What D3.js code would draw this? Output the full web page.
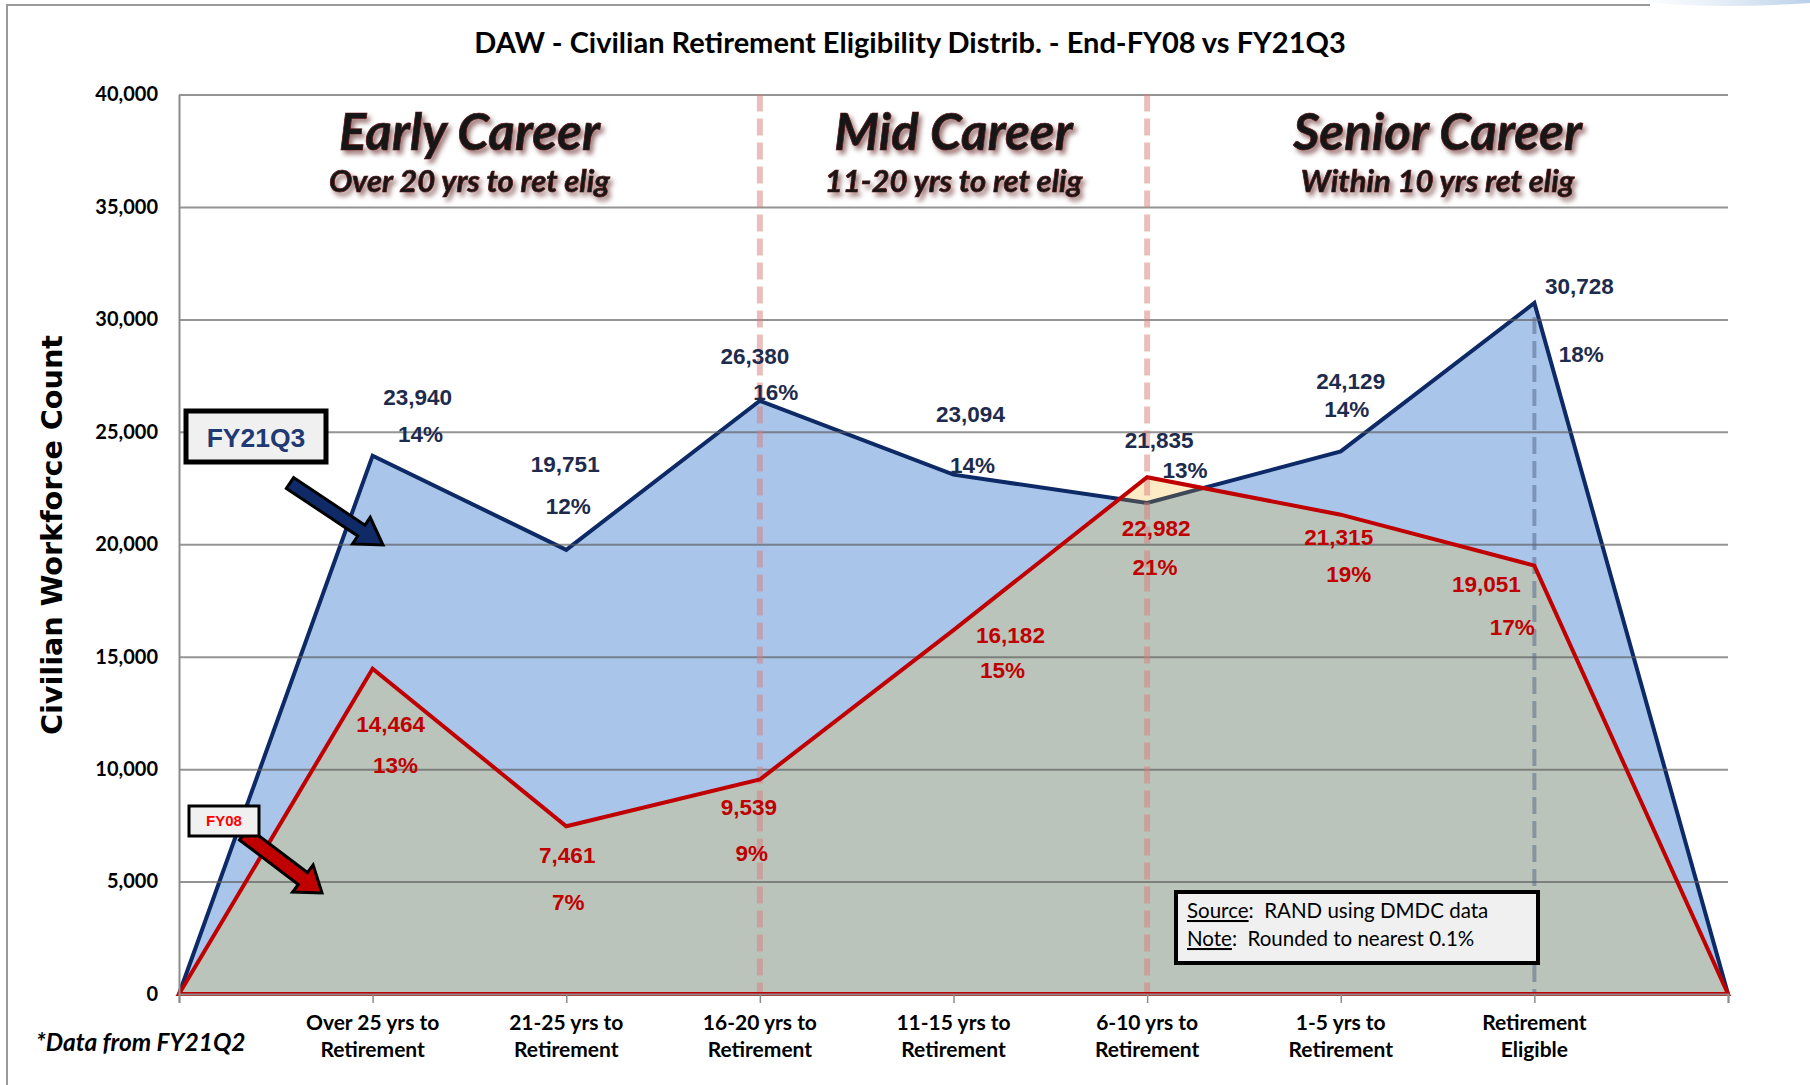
<!DOCTYPE html>
<html>
<head>
<meta charset="utf-8">
<script src="https://cdn.jsdelivr.net/npm/d3@7"></script>
<style>
  body { margin: 0; background: #fff; }
  svg { display: block; }
</style>
</head>
<body>
<div id="chart"></div>
<script>
// data
let categories = ["", "Over 25 yrs to\nRetirement", "21-25 yrs to\nRetirement", "16-20 yrs to\nRetirement",
                  "11-15 yrs to\nRetirement", "6-10 yrs to\nRetirement", "1-5 yrs to\nRetirement",
                  "Retirement\nEligible", ""];
let fy21Values = [0, 23940, 19751, 26380, 23094, 21835, 24129, 30728, 0];
let fy08Values = [0, 14464, 7461, 9539, 16182, 22982, 21315, 19051, 0];
let fy21Pct = ["", "14%", "12%", "16%", "14%", "13%", "14%", "18%", ""];
let fy08Pct = ["", "13%", "7%", "9%", "15%", "21%", "19%", "17%", ""];
let yTicks = [0, 5000, 10000, 15000, 20000, 25000, 30000, 35000, 40000];
let sections = [
  {title: "Early Career", sub: "Over 20 yrs to ret elig", from: 0, to: 3},
  {title: "Mid Career", sub: "11-20 yrs to ret elig", from: 3, to: 5},
  {title: "Senior Career", sub: "Within 10 yrs ret elig", from: 5, to: 8}
];

// label nudges (pixels) for the value / percent labels, [dx, dy]
let fy21ValOff = [null, [45,-59], [-1,-86], [-5,-45], [17,-61], [12,-63], [10,-70], [45,-17], null];
let fy21PctOff = [null, [48,-22], [2,-44], [16,-9], [19,-10], [38,-33], [6,-42], [47,51], null];
let fy08ValOff = [null, [18,55], [1,29], [-11,27], [57,5], [9,51], [-2,22], [-48,18], null];
let fy08PctOff = [null, [23,96], [2,76], [-8,73], [49,40], [8,90], [8,59], [-22,61], null];

let width = 1810, height = 1085;
let plotLeft = 179, plotRight = 1728, plotTop = 94.5, plotBottom = 994;

let navy = "#0d2a66";
let red = "#c00000";
let blueFill = "#a9c5ea";
let greenFill = "#bac4ba";
let creamFill = "#fdebc6";

var svg = d3.select("#chart").append("svg")
  .attr("width", width)
  .attr("height", height);

let defs = svg.append("defs");
let shadow = defs.append("filter").attr("id", "glow")
  .attr("x", "-10%").attr("y", "-20%").attr("width", "120%").attr("height", "150%");
shadow.append("feDropShadow")
  .attr("dx", 3).attr("dy", 4).attr("stdDeviation", 2.5)
  .attr("flood-color", "#4a0000").attr("flood-opacity", 0.55);
let swoosh = defs.append("linearGradient").attr("id", "swoosh");
swoosh.append("stop").attr("offset", "0%").attr("stop-color", "#dbe7f3").attr("stop-opacity", 0);
swoosh.append("stop").attr("offset", "100%").attr("stop-color", "#b9d0ea");

let x = d3.scalePoint().domain(d3.range(categories.length)).range([plotLeft, plotRight]);
let y = d3.scaleLinear().domain([0, 40000]).range([plotBottom, plotTop]);

// outer frame of the slide
svg.append("path")
  .attr("d", "M7," + height + " L7,5 L1650,5")
  .attr("fill", "none").attr("stroke", "#9a9a9a").attr("stroke-width", 2);
svg.append("path")
  .attr("d", "M1630,0 Q1700,10 1810,3 L1810,0 Z")
  .attr("fill", "url(#swoosh)");

// title
svg.append("text")
  .attr("x", 910).attr("y", 53)
  .attr("text-anchor", "middle")
  .style("font-family", "Lato, sans-serif").style("font-weight", 700).style("font-size", "29px")
  .text("DAW - Civilian Retirement Eligibility Distrib. - End-FY08 vs FY21Q3");

// areas
let area = d3.area().x((d, i) => x(i)).y0(y(0)).y1(d => y(d));
let line = d3.line().x((d, i) => x(i)).y(d => y(d));

defs.append("clipPath").attr("id", "clipFy21")
  .append("path").attr("d", area(fy21Values));
defs.append("clipPath").attr("id", "clipFy08")
  .append("path").attr("d", area(fy08Values));

svg.append("path").attr("d", area(fy21Values)).attr("fill", blueFill);
svg.append("path").attr("d", line(fy21Values))
  .attr("fill", "none").attr("stroke", navy).attr("stroke-width", 4).attr("stroke-linejoin", "miter");

// FY08 area: cream where it pokes above FY21Q3, grey-green where it overlaps
svg.append("path").attr("d", area(fy08Values)).attr("fill", creamFill);
svg.append("path").attr("d", area(fy08Values)).attr("fill", greenFill)
  .attr("clip-path", "url(#clipFy21)");
svg.append("path").attr("d", line(fy21Values))
  .attr("fill", "none").attr("stroke", "#3e4856").attr("stroke-width", 4)
  .attr("clip-path", "url(#clipFy08)");

// gridlines
svg.append("g")
  .attr("transform", "translate(" + plotLeft + ",0)")
  .call(d3.axisLeft(y).tickValues(yTicks).tickSize(-(plotRight - plotLeft)).tickFormat(""))
  .call(g => g.select(".domain").remove())
  .call(g => g.selectAll("line").attr("stroke", "rgba(90,90,90,0.65)").attr("stroke-width", 2));

// section divider dashes
[3, 5].forEach(function(i){
  svg.append("line")
    .attr("x1", x(i)).attr("x2", x(i)).attr("y1", y(40000)).attr("y2", y(0))
    .attr("stroke", "rgba(215,125,125,0.5)").attr("stroke-width", 6)
    .attr("stroke-dasharray", "17,7");
});
svg.append("line")
  .attr("x1", x(7)).attr("x2", x(7)).attr("y1", y(fy21Values[7]) + 14).attr("y2", y(0))
  .attr("stroke", "rgba(80,100,135,0.5)").attr("stroke-width", 4)
  .attr("stroke-dasharray", "17,7");

svg.append("path").attr("d", area(fy08Values))
  .attr("fill", "none").attr("stroke", red).attr("stroke-width", 4).attr("stroke-linejoin", "miter");

// axes
let yAxis = svg.append("g")
  .attr("transform", "translate(" + plotLeft + ",0)")
  .call(d3.axisLeft(y).tickValues(yTicks).tickSize(0).tickPadding(21).tickFormat(d3.format(",")));
yAxis.select(".domain").attr("stroke", "#8c8c8c").attr("stroke-width", 2);
yAxis.selectAll("text")
  .attr("fill", "#000")
  .style("font-family", "Lato, sans-serif").style("font-weight", 700).style("font-size", "20px");

let xAxis = svg.append("g")
  .attr("transform", "translate(0," + plotBottom + ")")
  .call(d3.axisBottom(x).tickSize(9).tickFormat(""));
xAxis.select(".domain").attr("stroke", "#8c8c8c").attr("stroke-width", 2);
xAxis.selectAll("line").attr("stroke", "#8c8c8c").attr("stroke-width", 1.5);

categories.forEach(function(c, i){
  if(c == "") return;
  let parts = c.split("\n");
  let t = svg.append("text")
    .attr("text-anchor", "middle")
    .style("font-family", "Lato, sans-serif").style("font-weight", 700).style("font-size", "21px");
  t.append("tspan").attr("x", x(i)).attr("y", 1030).text(parts[0]);
  t.append("tspan").attr("x", x(i)).attr("y", 1057).text(parts[1]);
});

svg.append("text")
  .attr("x", 36).attr("y", 1051)
  .style("font-family", "Lato, sans-serif").style("font-weight", 700).style("font-style", "italic")
  .style("font-size", "24.5px")
  .text("*Data from FY21Q2");

svg.append("text")
  .attr("transform", "translate(62,535) rotate(-90)")
  .attr("text-anchor", "middle")
  .attr("textLength", 400).attr("lengthAdjust", "spacingAndGlyphs")
  .style("font-family", "'DejaVu Sans', sans-serif").style("font-weight", 700).style("font-size", "29px")
  .text("Civilian Workforce Count");

// section headings
sections.forEach(function(s){
  let cx = (x(s.from) + x(s.to)) / 2;
  let g = svg.append("g").attr("filter", "url(#glow)")
    .style("font-family", "Lato, sans-serif").style("font-weight", 700).style("font-style", "italic")
    .attr("fill", "#161616").attr("stroke", "#5c1414").attr("stroke-width", 0.7)
    .attr("text-anchor", "middle");
  g.append("text").attr("x", cx).attr("y", 150).style("font-size", "51px").text(s.title);
  g.append("text").attr("x", cx).attr("y", 192).style("font-size", "31px").text(s.sub);
});

// data labels
function addLabels(values, texts, offsets, color){
  values.forEach(function(v, i){
    if(offsets[i] == null) return;
    svg.append("text")
      .attr("x", x(i) + offsets[i][0])
      .attr("y", y(v) + offsets[i][1])
      .attr("dy", "0.36em")
      .attr("text-anchor", "middle")
      .attr("fill", color)
      .style("font-family", "'Liberation Sans', Arial, sans-serif").style("font-weight", 700)
      .style("font-size", "22.5px")
      .text(texts[i]);
  });
}
addLabels(fy21Values, fy21Values.map(d3.format(",")), fy21ValOff, "#1e2b4c");
addLabels(fy21Values, fy21Pct, fy21PctOff, "#1e2b4c");
addLabels(fy08Values, fy08Values.map(d3.format(",")), fy08ValOff, red);
addLabels(fy08Values, fy08Pct, fy08PctOff, red);

// block arrow from (x1,y1) to tip (x2,y2)
function arrowPath(x1, y1, x2, y2, shaftW, headW, headL){
  let len = Math.hypot(x2 - x1, y2 - y1);
  let ux = (x2 - x1) / len, uy = (y2 - y1) / len;
  let px = -uy, py = ux;
  let bx = x2 - ux * headL, by = y2 - uy * headL;
  let pts = [
    [x1 + px * shaftW / 2, y1 + py * shaftW / 2],
    [bx + px * shaftW / 2, by + py * shaftW / 2],
    [bx + px * headW / 2, by + py * headW / 2],
    [x2, y2],
    [bx - px * headW / 2, by - py * headW / 2],
    [bx - px * shaftW / 2, by - py * shaftW / 2],
    [x1 - px * shaftW / 2, y1 - py * shaftW / 2]
  ];
  return d3.line()(pts) + "Z";
}

// legend call-outs
svg.append("path").attr("d", arrowPath(290, 483, 383, 545, 13, 32, 26))
  .attr("fill", "#0f2a66").attr("stroke", "#000").attr("stroke-width", 3).attr("stroke-linejoin", "miter");
svg.append("rect").attr("x", 186).attr("y", 411).attr("width", 140).attr("height", 51)
  .attr("fill", "#f0f0f0").attr("stroke", "#000").attr("stroke-width", 5);
svg.append("text").attr("x", 256).attr("y", 437).attr("dy", "0.36em")
  .attr("text-anchor", "middle").attr("fill", "#1f3a73")
  .style("font-family", "'Liberation Sans', Arial, sans-serif").style("font-weight", 700).style("font-size", "26.5px")
  .text("FY21Q3");

svg.append("path").attr("d", arrowPath(244, 834, 322, 893, 15, 34, 24))
  .attr("fill", red).attr("stroke", "#000").attr("stroke-width", 3).attr("stroke-linejoin", "miter");
svg.append("rect").attr("x", 189).attr("y", 806).attr("width", 70).attr("height", 30)
  .attr("fill", "#f0f0f0").attr("stroke", "#000").attr("stroke-width", 3);
svg.append("text").attr("x", 224).attr("y", 821).attr("dy", "0.36em")
  .attr("text-anchor", "middle").attr("fill", "#ff0000")
  .style("font-family", "'Liberation Sans', Arial, sans-serif").style("font-weight", 700).style("font-size", "15px")
  .text("FY08");

// source note
svg.append("rect").attr("x", 1176).attr("y", 892).attr("width", 362).attr("height", 71)
  .attr("fill", "#f0f0f0").attr("stroke", "#000").attr("stroke-width", 4);
let note = svg.append("g")
  .style("font-family", "Lato, sans-serif").style("font-size", "20.5px")
  .attr("fill", "#000");
let l1 = note.append("text").attr("x", 1187).attr("y", 918);
l1.append("tspan").style("text-decoration", "underline").text("Source");
l1.append("tspan").text(":\u00a0 RAND using DMDC data");
let l2 = note.append("text").attr("x", 1187).attr("y", 946);
l2.append("tspan").style("text-decoration", "underline").text("Note");
l2.append("tspan").text(":\u00a0 Rounded to nearest 0.1%");
</script>
</body>
</html>
